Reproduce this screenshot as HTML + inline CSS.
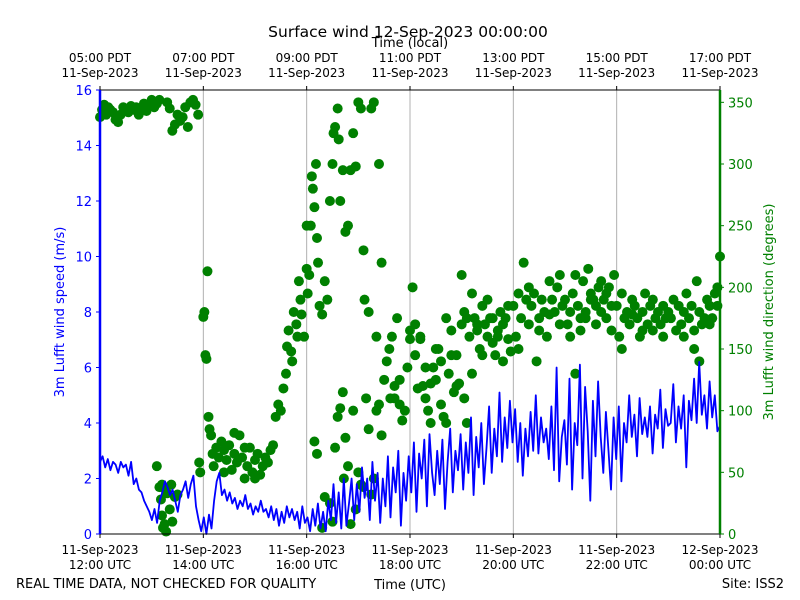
<!DOCTYPE html>
<html><head><meta charset="utf-8">
<style>
html,body{margin:0;padding:0;background:#fff;}
svg{display:block;font-family:"DejaVu Sans","Liberation Sans",sans-serif;}
</style></head>
<body>
<svg id="chart" width="800" height="600" viewBox="0 0 800 600">
<text x="408" y="37" font-size="15.5" text-anchor="middle">Surface wind 12-Sep-2023 00:00:00</text>
<text x="410" y="47" font-size="13" text-anchor="middle">Time (local)</text>
<text x="410" y="589" font-size="13" text-anchor="middle">Time (UTC)</text>
<text x="16" y="588" font-size="13">REAL TIME DATA, NOT CHECKED FOR QUALITY</text>
<text x="784" y="588" font-size="13" text-anchor="end">Site: ISS2</text>
<text transform="translate(64,312) rotate(-90)" font-size="13" fill="blue" text-anchor="middle">3m Lufft wind speed (m/s)</text>
<text transform="translate(773,312) rotate(-90)" font-size="13" fill="green" text-anchor="middle">3m Lufft wind direction (degrees)</text>
<g id="grid"></g><g id="dirs"></g><g id="speed"></g><g id="axes"></g>
</svg>
<script>
const speedValues=[2.6,2.8,2.4,2.7,2.3,2.6,2.5,2.2,2.6,2.4,2.5,2.1,2.6,1.8,2.0,1.6,1.5,1.2,1.0,0.8,0.5,0.9,0.4,1.2,1.5,1.9,1.7,1.4,1.6,1.2,0.8,1.4,1.6,1.9,1.3,1.8,2.1,1.0,0.5,0.1,0.6,0.0,0.7,0.2,1.2,1.9,2.2,1.4,1.6,1.2,1.5,1.1,1.3,0.9,1.2,1.0,1.4,0.9,1.1,0.7,1.0,0.8,1.2,0.8,0.9,0.6,1.0,0.5,0.9,0.3,0.8,0.4,1.0,0.6,0.9,0.5,0.8,0.2,1.0,0.4,0.6,0.1,0.9,0.3,1.1,0.2,0.8,0.1,1.2,0.5,1.8,0.4,1.5,0.2,2.0,0.3,1.1,2.0,0.5,1.8,0.8,2.4,1.3,2.0,0.5,2.6,1.2,2.2,0.4,2.0,1.0,2.8,0.6,2.4,1.5,3.0,0.3,2.2,1.2,2.8,1.5,3.3,0.8,2.9,2.0,3.4,1.0,3.6,2.2,1.4,3.0,1.8,3.4,0.9,2.6,3.8,1.5,3.0,2.3,3.6,1.6,3.3,2.2,4.2,1.4,3.5,2.4,4.0,1.8,3.1,4.6,2.2,3.8,2.8,5.1,2.6,4.2,3.1,4.8,3.3,4.5,2.6,4.0,2.1,3.8,2.8,4.4,3.0,5.0,2.9,4.2,3.3,3.8,2.7,4.6,2.3,6.0,1.9,3.5,4.1,2.5,5.6,1.6,4.0,3.2,6.1,2.0,5.3,3.7,1.2,4.8,2.8,5.5,3.5,2.2,4.4,3.0,1.6,4.2,2.7,4.6,1.9,4.0,3.3,5.0,3.5,4.3,2.8,4.9,3.6,4.2,3.5,4.6,2.9,4.3,3.8,5.2,3.1,4.5,3.9,4.0,5.4,3.3,4.6,3.8,5.0,2.4,4.8,4.1,5.6,4.0,6.2,4.3,5.0,3.8,5.5,4.2,5.0,3.7,3.9];
const dirTimes=[0,0.04,0.08,0.12,0.16,0.2,0.25,0.3,0.35,0.4,0.45,0.5,0.55,0.6,0.65,0.7,0.75,0.8,0.85,0.9,0.95,1.0,1.05,1.1,1.15,
1.1,1.15,1.18,1.2,1.22,1.25,1.28,1.2,1.24,1.3,1.35,1.4,1.38,1.45,1.5,
1.3,1.35,1.4,1.45,1.5,1.55,1.6,1.65,1.7,1.75,1.8,1.85,1.9,1.92,1.94,
2.0,2.02,2.04,2.06,2.08,2.1,2.12,2.15,2.18,2.2,2.25,2.3,2.35,2.4,2.45,2.5,2.55,2.6,2.65,2.7,2.75,2.8,2.85,2.9,2.95,3.0,3.05,3.1,3.15,3.2,3.25,3.3,3.35,2.4,2.6,2.8,3.0,
3.4,3.45,3.5,3.55,3.6,3.62,3.65,3.7,3.72,3.75,3.8,3.82,3.85,3.88,3.9,3.95,4.0,4.02,4.05,4.08,4.1,4.12,4.15,4.18,4.2,4.22,
4.0,4.25,4.3,4.35,4.4,4.45,4.5,4.52,4.55,4.6,4.62,4.65,4.7,4.75,4.8,4.85,4.9,4.95,5.0,5.05,5.1,5.12,5.2,5.25,5.3,5.35,5.4,5.45,
4.15,4.2,4.3,4.35,4.45,4.5,4.55,4.6,4.65,4.7,4.72,4.75,4.8,4.85,4.9,4.95,5.0,5.05,5.1,5.15,5.2,5.25,5.3,5.35,5.4,5.45,
5.5,5.55,5.6,5.62,5.65,5.7,5.75,5.8,5.85,5.9,5.95,6.0,6.05,6.1,6.15,6.2,6.25,6.3,6.35,6.4,6.45,6.5,6.55,6.6,6.65,6.7,6.75,6.8,6.85,6.9,6.95,
5.7,5.8,6.0,6.1,6.2,6.3,6.4,6.5,6.6,6.7,6.8,6.9,7.0,7.05,7.1,
7.0,7.05,7.1,7.15,7.2,7.25,7.3,7.35,7.4,7.45,7.5,7.55,7.6,7.65,7.7,7.75,7.8,7.85,7.9,7.95,
7.2,7.3,7.4,7.5,7.6,7.7,7.8,7.9,
8.0,8.05,8.1,8.15,8.2,8.25,8.3,8.35,8.4,8.45,8.5,8.55,8.6,8.65,8.7,8.75,8.8,8.85,8.9,8.95,
8.1,8.3,8.5,8.7,8.9,
9.0,9.05,9.1,9.15,9.2,9.25,9.3,9.35,9.4,9.45,9.5,9.55,9.6,9.65,9.7,9.75,9.8,9.85,9.9,9.95,
9.1,9.2,9.3,9.4,9.5,9.6,9.7,9.8,9.9,
10.0,10.05,10.1,10.15,10.2,10.25,10.3,10.35,10.4,10.45,10.5,10.55,10.6,10.65,10.7,10.75,10.8,10.85,10.9,10.95,
10.1,10.3,10.5,10.7,10.9,
11.0,11.05,11.1,11.15,11.2,11.25,11.3,11.35,11.4,11.45,11.5,11.55,11.6,11.65,11.7,11.75,11.8,11.85,11.9,11.95,12.0,
11.3,11.5,11.6,11.8,11.95];
const dirValues=[338,344,348,340,346,344,342,336,334,340,346,345,342,347,344,346,340,344,349,343,347,352,346,349,352,
55,38,28,15,5,8,2,40,37,33,20,10,40,30,32,
350,345,327,332,340,335,338,346,330,350,352,348,340,58,50,
176,180,145,142,213,95,85,80,65,55,70,62,75,68,60,72,52,65,58,80,62,45,55,70,50,60,65,48,55,62,58,68,72,50,82,70,45,
95,105,100,118,130,152,165,148,140,180,170,160,205,190,178,160,215,195,210,250,290,280,265,300,240,220,
250,185,178,205,190,270,300,325,330,345,320,270,295,245,250,295,325,298,350,345,230,190,180,345,350,160,300,220,
75,65,5,30,25,10,70,95,102,115,45,78,55,8,100,20,50,40,38,110,85,32,45,100,105,80,
125,140,150,110,160,120,175,125,92,100,135,158,200,145,118,160,120,110,100,90,135,125,150,105,95,90,130,145,115,145,122,
110,105,165,170,158,135,122,150,140,175,165,120,210,110,90,
170,180,175,160,130,175,165,150,185,170,160,175,155,145,160,180,140,175,158,148,
195,170,145,190,175,165,170,185,
185,160,150,175,220,190,170,185,195,140,175,190,180,160,205,190,180,200,210,185,
195,200,165,178,170,
190,170,180,195,210,185,175,205,180,215,195,190,185,200,205,190,175,200,185,210,
160,130,165,175,190,170,180,195,165,
185,160,150,175,180,170,190,185,175,160,180,195,170,185,165,175,180,170,185,175,
195,178,165,190,160,
180,175,190,165,185,170,180,195,175,185,165,205,180,170,175,190,185,175,195,185,225,
160,150,140,170,200];
const bottomTicks=[["11-Sep-2023","12:00 UTC"],["11-Sep-2023","14:00 UTC"],["11-Sep-2023","16:00 UTC"],["11-Sep-2023","18:00 UTC"],["11-Sep-2023","20:00 UTC"],["11-Sep-2023","22:00 UTC"],["12-Sep-2023","00:00 UTC"]];
const topTicks=[["05:00 PDT","11-Sep-2023"],["07:00 PDT","11-Sep-2023"],["09:00 PDT","11-Sep-2023"],["11:00 PDT","11-Sep-2023"],["13:00 PDT","11-Sep-2023"],["15:00 PDT","11-Sep-2023"],["17:00 PDT","11-Sep-2023"]];
const speedTicks=[0,2,4,6,8,10,12,14,16];
const dirTicks=[0,50,100,150,200,250,300,350];

const NS="http://www.w3.org/2000/svg";
const X0=100,X1=720,Y0=534,Y1=90;
const xs=t=>X0+(X1-X0)*t/12;
const ys=v=>Y0-(Y0-Y1)*v/16;
const yd=v=>Y0-(Y0-Y1)*v/360;
function mk(tag,attrs,parent){const e=document.createElementNS(NS,tag);for(const k in attrs)e.setAttribute(k,attrs[k]);parent.appendChild(e);return e;}
const grid=document.getElementById('grid'),dirs=document.getElementById('dirs'),sp=document.getElementById('speed'),axes=document.getElementById('axes');
for(let i=1;i<6;i++){const g=mk('line',{x1:xs(i*2),x2:xs(i*2),y1:Y1,y2:Y0,stroke:'#b0b0b0','stroke-width':1},grid);

}
for(let i=0;i<dirTimes.length;i++){const c=mk('circle',{cx:xs(dirTimes[i]),cy:yd(dirValues[i]),r:5,fill:'green'},dirs);

}
const pts=speedValues.map((v,i)=>xs(i*12/(speedValues.length-1)).toFixed(1)+','+ys(v).toFixed(1)).join(' ');
const pl=mk('polyline',{points:pts,fill:'none',stroke:'blue','stroke-width':1.8,'stroke-linejoin':'round'},sp);


const tb=mk('line',{x1:X0,x2:X1,y1:Y1,y2:Y1,stroke:'black','stroke-width':1},axes);


const bb=mk('line',{x1:X0,x2:X1,y1:Y0,y2:Y0,stroke:'black','stroke-width':1},axes);


const lsp=mk('line',{x1:X0,x2:X0,y1:Y1,y2:Y0,stroke:'blue','stroke-width':2.5},axes);


const rsp=mk('line',{x1:X1,x2:X1,y1:Y1,y2:Y0,stroke:'green','stroke-width':2.5},axes);


speedTicks.forEach(v=>{mk('line',{x1:X0-4,x2:X0,y1:ys(v),y2:ys(v),stroke:'blue'},axes);
const t=mk('text',{x:X0-8,y:ys(v)+5,'font-size':13,fill:'blue','text-anchor':'end'},axes);t.textContent=v;

});
dirTicks.forEach(v=>{mk('line',{x1:X1,x2:X1+4,y1:yd(v),y2:yd(v),stroke:'green'},axes);
const t=mk('text',{x:X1+8,y:yd(v)+5,'font-size':13,fill:'green'},axes);t.textContent=v;

});
bottomTicks.forEach((l,i)=>{const x=xs(i*2);mk('line',{x1:x,x2:x,y1:Y0,y2:Y0+4,stroke:'black'},axes);
const t=mk('text',{x:x,y:554,'font-size':12,'text-anchor':'middle'},axes);


mk('tspan',{x:x},t).textContent=l[0];mk('tspan',{x:x,dy:15},t).textContent=l[1];});
topTicks.forEach((l,i)=>{const x=xs(i*2);mk('line',{x1:x,x2:x,y1:Y1-4,y2:Y1,stroke:'black'},axes);
const t=mk('text',{x:x,y:62,'font-size':12,'text-anchor':'middle'},axes);


mk('tspan',{x:x},t).textContent=l[0];mk('tspan',{x:x,dy:15},t).textContent=l[1];});
</script>
</body></html>
